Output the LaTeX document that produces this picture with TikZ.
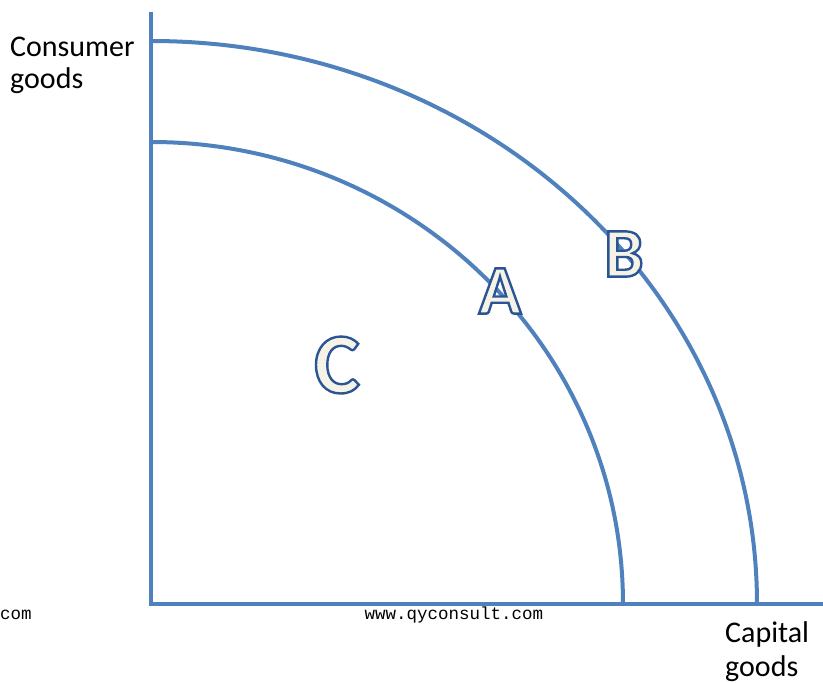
\documentclass[tikz,border=0pt]{standalone}
\usepackage{fontspec}
\setmainfont{Carlito}
\newfontfamily\webfont{Liberation Mono}
\definecolor{ppfblue}{HTML}{4F81BD}
\definecolor{ivory}{HTML}{F5F3E6}
% hollow letter: ivory fill, dark blue outline
\newcommand\hollow[1]{\textcolor{ivory}{\special{pdf:literal direct 2 Tr 2.4 w 0.17 0.33 0.59 RG}#1\special{pdf:literal direct 0 Tr}}}
\begin{document}
\begin{tikzpicture}[x=1pt,y=1pt,
  axis/.style={draw=ppfblue,line width=4pt},
  lbl/.style={inner sep=0pt,font=\fontsize{30}{32}\selectfont},
  web/.style={inner sep=0pt,font=\webfont\fontsize{17.5}{18}\selectfont},
  pt/.style={inner sep=0pt,font=\bfseries\fontsize{#1}{#1}\selectfont}]
\useasboundingbox (-151,-79) rectangle (672,604);
\coordinate (O) at (0,0);
\coordinate (T) at (0,592);
\coordinate (R) at (672,0);
\coordinate (A0) at (0,462);
\coordinate (B0) at (0,563);

\draw[axis] (T)--(O)--(R);
\draw[axis] (A0) arc[start angle=90,end angle=0,x radius=472,y radius=462] coordinate (A1);
\draw[axis] (B0) arc[start angle=90,end angle=0,x radius=606,y radius=563] coordinate (B1);

\node[pt=70] (a) at (349,313) {\hollow{A}};
\node[pt=70] (b) at (473,350) {\hollow{B}};
\node[pt=86] (c) at (186,239) {\hollow{C}};

\node[lbl,anchor=base west] (cg) at (-141,547) {Consumer};
\node[lbl,anchor=base west] (cg2) at (-141,515) {goods};
\node[lbl,anchor=base west] (kg) at (574,-39) {Capital};
\node[lbl,anchor=base west] (kg2) at (574,-73) {goods};
\node[web,anchor=base west] (dom) at (-151,-16) {com};
\node[web,anchor=base] (url) at (303,-16) {www.qyconsult.com};
\end{tikzpicture}
\end{document}
